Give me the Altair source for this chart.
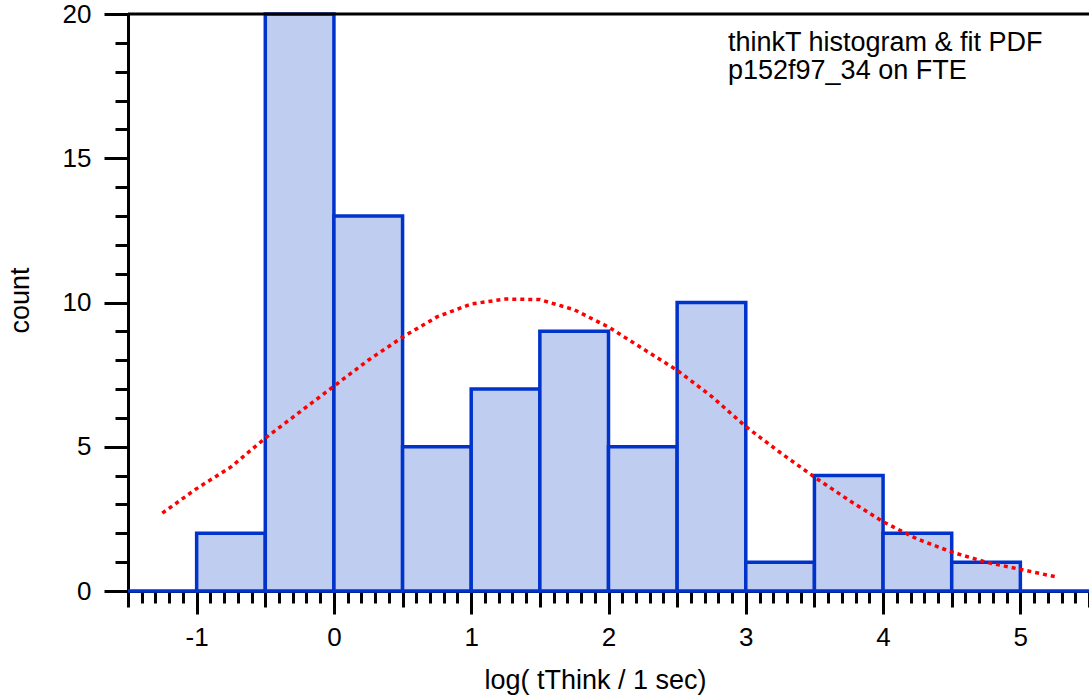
import altair as alt
import pandas as pd

# Histogram bins (log10 of think time) and counts
bin_starts = [-1.5, -1.0, -0.5, 0.0, 0.5, 1.0, 1.5, 2.0, 2.5, 3.0, 3.5, 4.0, 4.5, 5.0]
bin_ends = [-1.0, -0.5, 0.0, 0.5, 1.0, 1.5, 2.0, 2.5, 3.0, 3.5, 4.0, 4.5, 5.0, 5.5]
counts = [0, 2, 20, 13, 5, 7, 9, 5, 10, 1, 4, 2, 1, 0]

# Fitted PDF (scaled to counts)
fit_x = [-1.25, -1.0, -0.75, -0.5, -0.25, 0.0, 0.25, 0.5, 0.75, 1.0, 1.25, 1.5, 1.75,
         2.0, 2.25, 2.5, 2.75, 3.0, 3.25, 3.5, 3.75, 4.0, 4.25, 4.5, 4.75, 5.0, 5.25]
fit_y = [2.7, 3.55, 4.3, 5.3, 6.2, 7.1, 8.0, 8.8, 9.5, 9.95, 10.12, 10.1, 9.75,
         9.15, 8.4, 7.65, 6.75, 5.7, 4.8, 3.95, 3.15, 2.4, 1.8, 1.35, 1.0, 0.75, 0.5]

# Axis ticks
x_major = [-1, 0, 1, 2, 3, 4, 5]
x_medium = [-1.5, -0.5, 0.5, 1.5, 2.5, 3.5, 4.5, 5.5]
x_minor = [round(-1.5 + 0.1 * i, 2) for i in range(71)]
y_major = [0, 5, 10, 15, 20]
y_minor = list(range(0, 21))
x_domain = [-1.5, 5.5]
y_domain = [0, 20]

x_title = "log( tThink / 1 sec)"
y_title = "count"
note_lines = ["thinkT histogram & fit PDF", "p152f97_34 on FTE"]
frame_top = [20]

FONT = "Liberation Sans"
W, H = 961, 577

hist = pd.DataFrame({"start": bin_starts, "end": bin_ends, "count": counts})
fit = pd.DataFrame({"x": fit_x, "y": fit_y})

xscale = alt.Scale(domain=x_domain, nice=False, zero=False)
yscale = alt.Scale(domain=y_domain, nice=False, zero=False)

common_axis = dict(domain=False, labels=False, title=None, grid=False,
                   tickColor="black", tickWidth=3)

bars = alt.Chart(hist).mark_rect(
    fill="#bfcdf0", stroke="#0033cc", strokeWidth=3.5
).encode(
    x=alt.X("start:Q", scale=xscale, axis=alt.Axis(
        orient="bottom", values=x_major, labelExpr="'' + datum.value",
        tickSize=23, tickWidth=3,
        tickColor="black", domainColor="black", domainWidth=3, grid=False,
        labelFont=FONT, labelFontSize=26, labelColor="black", labelBaseline="alphabetic",
        labelPadding=31, labelFlush=False, labelOverlap=False, labelBound=False,
        title=x_title, titleFont=FONT, titleFontSize=27, titleFontWeight="normal",
        titleColor="black", titleX=467, titleY=97, titleBaseline="alphabetic",
        titleAlign="center", titleAnchor="start")),
    x2="end:Q",
    y=alt.Y("count:Q", scale=yscale, axis=alt.Axis(
        orient="left", values=y_major, labelExpr="'' + datum.value",
        tickSize=24, tickWidth=3,
        tickColor="black", domainColor="black", domainWidth=3, grid=False,
        labelFont=FONT, labelFontSize=26, labelColor="black", labelBaseline="middle",
        labelAlign="right", labelPadding=13, labelFlush=False, labelOverlap=False,
        labelBound=False,
        title=y_title, titleFont=FONT, titleFontSize=27, titleFontWeight="normal",
        titleColor="black", titleX=-100, titleY=286, titleAngle=270,
        titleBaseline="alphabetic", titleAlign="center", titleAnchor="start")),
    y2=alt.datum(0),
)

curve = alt.Chart(fit).mark_line(
    color="#ff0000", strokeWidth=3.5, strokeDash=[4, 4]
).encode(
    x=alt.X("x:Q", scale=xscale, axis=alt.Axis(orient="bottom", values=x_minor,
                                               tickSize=12, **common_axis)),
    y=alt.Y("y:Q", scale=yscale, axis=alt.Axis(orient="left", values=y_minor,
                                               tickSize=13, **common_axis)),
)

medium = alt.Chart(hist).mark_point(opacity=0).encode(
    x=alt.X("end:Q", scale=xscale, axis=alt.Axis(orient="bottom", values=x_medium,
                                                 tickSize=16, **common_axis)),
    y=alt.Y("count:Q", scale=yscale, axis=None),
)

top = alt.Chart(pd.DataFrame({"v": frame_top})).mark_rule(
    color="black", strokeWidth=3
).encode(y=alt.Y("v:Q", scale=yscale, axis=None))

note = alt.Chart(pd.DataFrame({"k": [0]})).mark_text(
    text=note_lines, align="left", baseline="alphabetic", font=FONT,
    fontSize=27, lineHeight=28, color="black"
).encode(x=alt.value(600), y=alt.value(37))

chart = alt.layer(bars, curve, medium, top, note).resolve_axis(
    x="independent", y="independent"
).properties(
    width=W, height=H,
    autosize=alt.AutoSizeParams(type="none"),
    padding={"left": 128, "top": 14, "right": 0, "bottom": 104},
).configure_view(stroke=None).configure(background="white")

chart.save("out.html", embed_options={"renderer": "svg", "actions": False})
